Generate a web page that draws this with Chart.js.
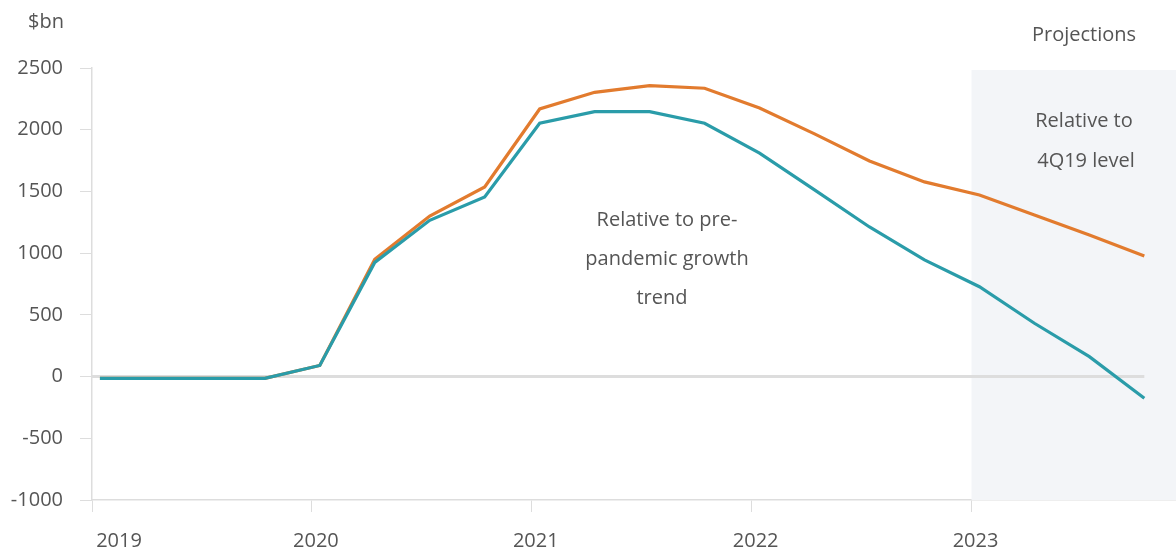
<!DOCTYPE html>
<html>
<head>
<meta charset="utf-8">
<script src="https://cdn.jsdelivr.net/npm/chart.js@4.4.1/dist/chart.umd.min.js"></script>
<style>
  html, body { margin: 0; padding: 0; background: #ffffff; }
  #wrap { width: 1176px; height: 550px; position: relative; }
</style>
</head>
<body>
<div id="wrap"><canvas id="c" width="1176" height="550"></canvas></div>
<script>
// Quarterly periods, 2019Q1 .. 2023Q4
const quarters = ['2019Q1','2019Q2','2019Q3','2019Q4','2020Q1','2020Q2','2020Q3','2020Q4',
                  '2021Q1','2021Q2','2021Q3','2021Q4','2022Q1','2022Q2','2022Q3','2022Q4',
                  '2023Q1','2023Q2','2023Q3','2023Q4'];
// Relative to 4Q19 level ($bn)
const level4Q19 = [-15, -15, -15, -15, 90, 950, 1300, 1536, 2168, 2303, 2357, 2336,
                   2176, 1966, 1747, 1577, 1471, 1309, 1147, 977];
// Relative to pre-pandemic growth trend ($bn)
const vsTrend = [-15, -15, -15, -15, 90, 925, 1266, 1455, 2052, 2146, 2146, 2052,
                 1810, 1512, 1212, 945, 728, 432, 161, -176];
const yearTicks = [2019, 2020, 2021, 2022, 2023];
const yTicks = [-1000, -500, 0, 500, 1000, 1500, 2000, 2500];
const projectionStart = 2023;

const FONT = '"Open Sans", "Noto Sans", sans-serif';
const TXT = '#555555';

function qToX(q) {
  const y = parseInt(q.slice(0, 4), 10);
  const n = parseInt(q.slice(5), 10);
  return y + (n - 1) / 4 + 0.036;
}
const toPts = arr => arr.map((v, i) => ({ x: qToX(quarters[i]), y: v }));

const decor = {
  id: 'decor',
  beforeDatasetsDraw(chart) {
    const { ctx, chartArea, scales } = chart;
    const xs = scales.x, ys = scales.y;
    ctx.save();
    // projection shading
    const x0 = xs.getPixelForValue(projectionStart);
    ctx.fillStyle = '#f3f5f8';
    ctx.fillRect(x0, chartArea.top + 2, chartArea.right - x0, chartArea.bottom - chartArea.top - 2);
    // zero line
    const y0 = ys.getPixelForValue(0);
    const xEnd = xs.getPixelForValue(qToX(quarters[quarters.length - 1]));
    ctx.strokeStyle = '#dddddd';
    ctx.lineWidth = 3;
    ctx.beginPath();
    ctx.moveTo(chartArea.left, y0);
    ctx.lineTo(xEnd, y0);
    ctx.stroke();
    ctx.restore();
  },
  afterDraw(chart) {
    const { ctx, scales } = chart;
    const xs = scales.x;
    ctx.save();
    ctx.font = '20px ' + FONT;
    ctx.fillStyle = TXT;
    ctx.textBaseline = 'middle';
    // x labels
    ctx.textAlign = 'center';
    yearTicks.forEach((yr, i) => {
      const px = xs.getPixelForValue(yr) + (i === 0 ? 27 : 4);
      ctx.fillText(String(yr), px, 541);
    });
    // unit
    ctx.textAlign = 'right';
    ctx.fillText('$bn', 64, 22);
    // annotations
    ctx.textAlign = 'center';
    ctx.fillText('Projections', 1084, 35);
    ctx.fillText('Relative to', 1084, 121);
    ctx.fillText('4Q19 level', 1086, 161);
    ctx.fillText('Relative to pre-', 667, 220);
    ctx.fillText('pandemic growth', 667, 259);
    ctx.fillText('trend', 662, 298);
    ctx.restore();
  }
};

new Chart(document.getElementById('c'), {
  type: 'line',
  data: {
    datasets: [
      { label: 'Relative to pre-pandemic growth trend', data: toPts(vsTrend),
        borderColor: '#2a9ca9', borderWidth: 3.2, pointRadius: 0, tension: 0, fill: false },
      { label: 'Relative to 4Q19 level', data: toPts(level4Q19),
        borderColor: '#e27b2e', borderWidth: 3.2, pointRadius: 0, tension: 0, fill: false }
    ]
  },
  options: {
    responsive: false,
    animation: false,
    devicePixelRatio: 1,
    layout: { padding: { top: 68, right: 0, left: 0, bottom: 0 } },
    plugins: { legend: { display: false }, tooltip: { enabled: false } },
    scales: {
      x: {
        type: 'linear',
        min: 2019,
        max: 2023.93,
        afterBuildTicks(scale) { scale.ticks = yearTicks.map(v => ({ value: v })); },
        afterFit(scale) { scale.height = 50; },
        grid: { display: true, drawOnChartArea: false, drawTicks: true, tickLength: 12, color: '#dddddd' },
        border: { display: true, color: '#dddddd', width: 1.5 },
        ticks: { color: 'rgba(0,0,0,0)', font: { size: 20, family: FONT }, padding: 10, maxRotation: 0 }
      },
      y: {
        min: -1000,
        max: 2500,
        afterBuildTicks(scale) { scale.ticks = yTicks.map(v => ({ value: v })); },
        afterFit(scale) { scale.width = 92; },
        grid: { display: true, drawOnChartArea: false, drawTicks: true, tickLength: 12, color: '#dddddd' },
        border: { display: true, color: '#dddddd', width: 1.5 },
        ticks: { color: TXT, font: { size: 20, family: FONT }, padding: 17,
                 callback: v => String(v) }
      }
    }
  },
  plugins: [decor]
});
</script>
</body>
</html>
